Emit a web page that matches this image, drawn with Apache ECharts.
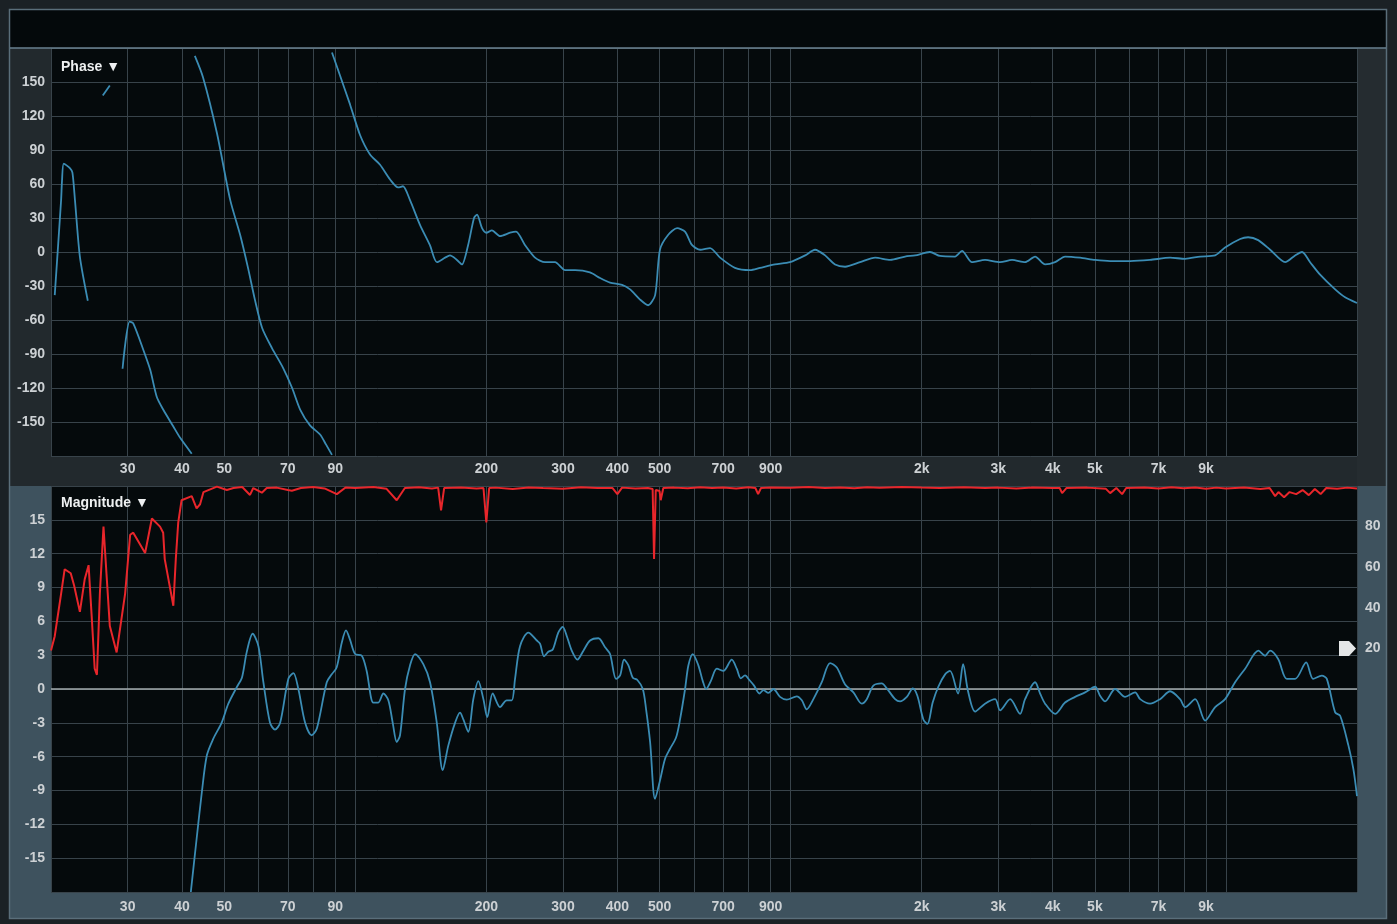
<!DOCTYPE html>
<html><head><meta charset="utf-8">
<script src="https://cdn.jsdelivr.net/npm/echarts@6/dist/echarts.min.js"></script>
<style>html,body{margin:0;padding:0;background:#1b2125;}#c{width:1397px;height:924px;}</style>
</head><body><div id="c"></div>
<script>
// ---------- axis definitions ----------
const gridFreqs = [20,30,40,50,60,70,80,90,100,200,300,400,500,600,700,800,900,1000,2000,3000,4000,5000,6000,7000,8000,9000,10000,20000];
const labelFreqs = [30,40,50,70,90,200,300,400,500,700,900,2000,3000,4000,5000,7000,9000];
const phaseRange = [-180, 180];
const magRange = [-18, 18];
const cohRange = [-100, 100];

// ---------- phase (deg), split where the trace wraps ----------
const phaseSeg1 = [[20.4,-38],[21.1,46],[21.2,63],[21.4,78],[22.1,74],[22.4,70],[22.7,46],[23.3,-4],[24.3,-43]];
const phaseSeg2 = [[26.3,138],[27.3,147]];
const phaseSeg3 = [[29.2,-103],[30.3,-61.5],[30.9,-63],[32.6,-86.5],[33.8,-104],[35.0,-128],[36.2,-139],[38.2,-154],[39.6,-164],[42.1,-178]];
const phaseSeg4 = [[42.8,173],[44.7,154],[48.1,105],[51.6,46],[54.4,15],[56.7,-14],[58.8,-42],[61.1,-67],[64.4,-85],[68.2,-102],[71.6,-120],[74.7,-139],[78.7,-153],[83,-161],[85.7,-170],[88.4,-179]];
const phaseSeg5 = [[88.4,176],[92.2,156],[97.3,130],[102.6,103],[108.1,86],[114,77],[120.2,64],[125.4,57],[128.7,58],[133.5,46],[140.8,24],[148.4,6],[154,-9],[160.8,-5],[165,-3],[171.2,-7],[175.8,-11],[181.6,6],[187.4,30],[190.4,33],[195.5,21],[200,17],[206,19],[215,14],[226.8,17],[234,18],[245.5,6],[258.8,-5],[272.9,-9],[287.6,-9],[303.3,-16],[319.8,-16],[346,-18],[365,-23],[384.8,-27],[410,-29],[427.8,-33],[451,-42],[470.6,-47],[488.4,-38],[501,2],[523,15],[548.7,21],[572,18],[594,6],[619.6,2],[653,3.5],[688.6,-5],[745,-14],[807,-16],[851,-14],[921,-11],[997,-9],[1080,-3],[1138,2],[1200,-3],[1265,-11],[1334,-13],[1444,-9],[1564,-5],[1693,-7],[1832,-4],[1932,-3],[2090,0],[2204,-3.5],[2386,-4],[2476,1],[2610,-9],[2796,-7],[3028,-9],[3226,-7],[3456,-9],[3644,-4],[3842,-11],[4050,-9],[4270,-4],[4624,-5],[5006,-7],[5420,-8],[6024,-8],[6694,-7],[7442,-5],[8058,-6],[8724,-4],[9446,-3],[9954,4],[10780,11.5],[11246,13],[11858,10.5],[12632,2],[13678,-9],[14418,-3],[14958,0],[15606,-9],[16454,-20],[17818,-33],[18782,-40],[20000,-45]];

// ---------- magnitude (dB) ----------
const magnitude = [[41.9,-18],[43.2,-13.3],[44.4,-9.2],[45.6,-5.9],[47.2,-4.4],[49.3,-3],[51.1,-1.3],[53.4,0.15],[54.9,1.0],[56.3,3.25],[58.1,4.9],[59.9,3.8],[61.5,0.6],[63.7,-3],[65.4,-3.6],[67.2,-3],[70.2,0.9],[72.1,1.4],[74.0,0],[76.7,-3],[79.4,-4.1],[81.6,-3.5],[86.0,0.6],[88.3,1.3],[90.6,1.9],[93.1,4.1],[95.2,5.2],[97.2,4.4],[99.9,3.1],[103.5,2.95],[106.2,1.6],[110,-1.2],[112.9,-1.2],[116,-0.4],[119.1,-1.0],[121.9,-3],[124.5,-4.7],[126.7,-4.1],[130.1,0],[133.6,2.1],[137.2,3.1],[143.3,2.2],[148.5,0.6],[153.9,-3],[158.8,-7.2],[163.6,-5],[169.5,-3],[174,-2.1],[177.1,-2.7],[181.8,-3.8],[186.7,-0.9],[191.7,0.7],[196.9,-0.9],[201,-2.5],[206.8,-0.4],[215,-1.6],[222.8,-1.0],[228.8,-1.0],[232.8,0.9],[239,3.8],[249.8,5.0],[261.2,4.3],[265.8,4.0],[271.4,2.9],[277.6,3.3],[284.2,3.5],[292.6,5.0],[299.6,5.5],[306,4.7],[314.2,3.4],[323.8,2.6],[334.2,3.4],[346.2,4.3],[361.8,4.5],[374.8,3.7],[384.8,3.1],[397.2,0.9],[405.8,1.2],[414.4,2.6],[424,2.1],[434,1.0],[444.6,0.8],[457.6,0],[465.6,-1.8],[475.6,-4.7],[488.2,-9.75],[501.2,-8.1],[514.6,-6.2],[528.4,-5.3],[545.6,-4.3],[557.2,-2.7],[572.2,0],[582.4,2.1],[596,3.1],[613.8,2.1],[628.4,0.7],[639.4,0],[655.6,0.7],[676.8,1.8],[700.8,1.6],[732.4,2.6],[752,1.8],[768.2,0.95],[785.8,1.2],[804,0.8],[824.2,0.3],[847.8,-0.4],[865.8,-0.1],[889,-0.35],[912.8,0],[945.6,-0.7],[979.6,-0.95],[1033,-0.65],[1061,-1.0],[1089,-1.8],[1128,-0.9],[1179,0.6],[1232,2.3],[1277,1.9],[1334,0.4],[1394,-0.3],[1457,-1.3],[1496,-0.9],[1549,0.3],[1619,0.5],[1663,0.06],[1738,-0.9],[1784,-1.1],[1849,-0.7],[1908,0.06],[1955,-0.6],[2018,-2.7],[2062,-3.1],[2120,-1.2],[2184,0.2],[2264,1.3],[2324,1.6],[2424,-0.4],[2490,2.2],[2556,-0.2],[2654,-2.0],[2796,-1.3],[2950,-0.9],[3028,-1.9],[3194,-0.9],[3366,-2.2],[3456,-0.9],[3644,0.6],[3742,-0.4],[3842,-1.3],[4050,-2.2],[4270,-1.2],[4502,-0.7],[4748,-0.3],[5006,0.2],[5138,-0.6],[5276,-1.1],[5564,0],[5866,-0.7],[6186,-0.3],[6352,-0.9],[6694,-1.3],[7058,-0.9],[7442,-0.2],[7846,-0.9],[8058,-1.6],[8496,-0.9],[8958,-2.8],[9446,-1.6],[9954,-0.9],[10496,0.6],[11068,1.8],[11876,3.4],[12304,2.95],[12632,3.4],[13180,2.66],[13800,0.9],[14418,0.9],[15282,2.36],[15858,0.9],[16606,1.18],[17048,0.9],[17818,-2.07],[18296,-2.37],[19110,-5.0],[19622,-7.1],[20000,-9.5]];

// ---------- coherence (%) ----------
const coherence = [[20,19],[20.4,26],[21.1,47],[21.5,59],[22.2,57],[22.6,51],[23.3,38],[23.9,54],[24.4,61],[24.8,36],[25.2,10],[25.5,7],[25.9,47],[26.4,80],[27.3,31],[28.3,18],[29.6,47],[30.4,76],[30.9,77],[32.9,67],[34.1,84],[35.6,80],[36.2,77],[36.5,64],[38.2,41],[38.7,64],[39.2,82],[39.9,93],[42.1,95],[43.2,89],[44.0,91],[44.8,97],[48.1,99.7],[50.7,98],[52.5,99],[55,99.5],[57.3,95.6],[58.3,99],[61,96.7],[62.6,99],[66,99.2],[70,98],[71.5,97.7],[75,99],[80,99.5],[85,98.8],[90.7,96],[95,99.3],[100,99],[110,99.5],[118,98.6],[124.5,93],[130,99],[140,99.4],[150,98.8],[155,99.2],[157.4,88],[160,99],[175,99.3],[190,98.8],[197,99],[200,82],[203,99],[210,99.2],[230,98.5],[250,99.3],[270,99],[300,98.7],[330,99.4],[360,99],[390,99],[400,96],[410,99.2],[440,98.8],[470,99],[482,98.5],[485.6,64],[490,98],[500,97.5],[503,93],[510,99],[540,99.2],[580,98.9],[620,99.4],[660,99],[700,99.3],[750,98.8],[800,99.4],[830,99],[842,96],[855,99],[900,99.3],[1000,99.1],[1100,99.5],[1200,99],[1300,99.3],[1400,98.9],[1500,99.4],[1600,99.1],[1800,99.5],[2000,99.2],[2200,99],[2500,99.4],[2800,99],[3000,99.2],[3300,98.8],[3600,99.3],[4000,99],[4150,99],[4204,96.5],[4300,99],[4800,99.2],[5300,98.6],[5420,96.5],[5600,99],[5774,96],[5900,99],[6500,99.3],[7000,98.8],[7500,99.4],[8000,98.9],[8500,99.3],[9000,98.7],[9500,99.2],[10000,98.8],[11000,99.3],[12000,98.5],[12600,99],[12972,95],[13200,97],[13600,94.5],[14000,97],[14500,96],[15000,98],[15500,95.5],[16000,98.5],[16500,96],[17000,99],[18000,98.6],[19000,99.2],[20000,98.8]];

const FONT = 'Liberation Sans, Arial, sans-serif';
const labelStyle = {color:'#cdd1d4', fontFamily:FONT, fontSize:14, fontWeight:'bold'};
const gridLine = {show:true, lineStyle:{color:'#38434a', width:1}};
const fmtFreq = v => v >= 1000 ? (v/1000) + 'k' : String(v);

function xAxisFor(idx, margin){
  return {type:'log', logBase:10, gridIndex:idx, min:20, max:20000,
    axisLine:{show:false},
    axisTick:{show:false, customValues:gridFreqs},
    axisLabel:Object.assign({customValues:labelFreqs, formatter:fmtFreq, margin:margin}, labelStyle),
    splitLine:gridLine, minorSplitLine:{show:false}};
}

const chart = echarts.init(document.getElementById('c'), null, {renderer:'canvas'});
const lineBlue = {color:'#3b8cb4', width:1.8};
function phaseSeries(d){
  return {type:'line', xAxisIndex:0, yAxisIndex:0, data:d, showSymbol:false, smooth:0.25, lineStyle:lineBlue, itemStyle:{color:'#3b8cb4'}, silent:true};
}
const option = {
  backgroundColor:'#1b2125',
  animation:false,
  graphic:[
    {type:'rect', z:-5, shape:{x:10,y:10,width:1376,height:38}, style:{fill:'#04090b'}},
    {type:'rect', z:-5, shape:{x:10,y:49,width:41,height:407}, style:{fill:'#22292d'}},
    {type:'rect', z:-5, shape:{x:1357,y:49,width:29,height:437}, style:{fill:'#252c30'}},
    {type:'rect', z:-5, shape:{x:10,y:456,width:1347,height:30}, style:{fill:'#22292d'}},
    {type:'rect', z:-5, shape:{x:10,y:486,width:41,height:432}, style:{fill:'#3e525e'}},
    {type:'rect', z:-5, shape:{x:1357,y:486,width:29,height:432}, style:{fill:'#3e525e'}},
    {type:'rect', z:-5, shape:{x:51,y:892,width:1306,height:26}, style:{fill:'#3e525e'}},
    {type:'rect', z:20, shape:{x:9.5,y:9.5,width:1377,height:909}, style:{fill:null, stroke:'#5a6e7a', lineWidth:1.5}},
    {type:'line', z:20, shape:{x1:10,y1:48,x2:1386,y2:48}, style:{stroke:'#6a8292', lineWidth:1.5}},
    {type:'polygon', z:20, shape:{points:[[1339,641],[1349,641],[1356,648.5],[1349,656],[1339,656]]}, style:{fill:'#e4e6e7'}},
    {type:'text', z:30, x:61, y:60, style:{text:'Phase ▼', fill:'#eef0f1', font:'bold 14px Liberation Sans, Arial, sans-serif'}},
    {type:'text', z:30, x:61, y:496, style:{text:'Magnitude ▼', fill:'#eef0f1', font:'bold 14px Liberation Sans, Arial, sans-serif'}}
  ],
  grid:[
    {left:51, top:48, width:1306, height:408, show:true, backgroundColor:'#050a0c', borderWidth:0},
    {left:51, top:486, width:1306, height:406, show:true, backgroundColor:'#050a0c', borderWidth:0}
  ],
  xAxis:[ xAxisFor(0, 6), xAxisFor(1, 8) ],
  yAxis:[
    {type:'value', gridIndex:0, min:phaseRange[0], max:phaseRange[1], interval:30,
      axisLine:{show:false}, axisTick:{show:false}, splitLine:gridLine,
      axisLabel:Object.assign({margin:6, formatter:v => Math.abs(v) === 180 ? '' : String(v)}, labelStyle)},
    {type:'value', gridIndex:1, min:magRange[0], max:magRange[1], interval:3,
      axisLine:{show:false}, axisTick:{show:false}, splitLine:gridLine,
      axisLabel:Object.assign({margin:6, formatter:v => Math.abs(v) === 18 ? '' : String(v)}, labelStyle)},
    {type:'value', gridIndex:1, position:'right', min:cohRange[0], max:cohRange[1], interval:20,
      axisLine:{show:false}, axisTick:{show:false}, splitLine:{show:false},
      axisLabel:Object.assign({margin:8, formatter:v => (v > 0 && v < 100) ? String(v) : ''}, labelStyle)}
  ],
  series:[
    phaseSeries(phaseSeg1), phaseSeries(phaseSeg2), phaseSeries(phaseSeg3), phaseSeries(phaseSeg4), phaseSeries(phaseSeg5),
    {type:'line', xAxisIndex:1, yAxisIndex:2, data:coherence, showSymbol:false, smooth:false, silent:true,
      lineStyle:{color:'#e8262b', width:2}, itemStyle:{color:'#e8262b'}},
    {type:'line', xAxisIndex:1, yAxisIndex:1, data:magnitude, showSymbol:false, smooth:0.3, silent:true,
      lineStyle:lineBlue, itemStyle:{color:'#3b8cb4'}, z:3,
      markLine:{silent:true, symbol:'none', label:{show:false}, z:1,
        lineStyle:{color:'#a3abae', width:1.5, type:'solid'}, data:[{yAxis:0}]}}
  ]
};
chart.setOption(option);
</script></body></html>
